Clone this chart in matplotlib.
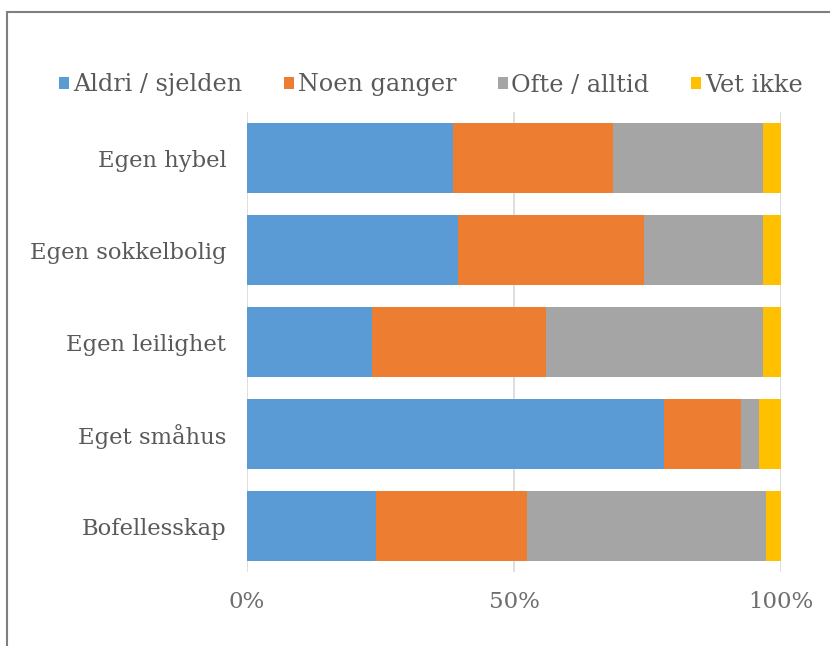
import matplotlib
matplotlib.use("Agg")
import matplotlib.pyplot as plt
from matplotlib.patches import Rectangle
import numpy as np

categories = ["Egen hybel", "Egen sokkelbolig", "Egen leilighet", "Eget småhus", "Bofellesskap"]
series_names = ["Aldri / sjelden", "Noen ganger", "Ofte / alltid", "Vet ikke"]
aldri = [38.6, 39.5, 23.4, 78.1, 24.2]
noen = [29.9, 34.8, 32.6, 14.4, 28.3]
ofte = [28.1, 22.3, 40.6, 3.4, 44.6]
vet = [3.4, 3.4, 3.4, 4.1, 3.0]
colors = ["#5B9BD5", "#ED7D31", "#A5A5A5", "#FFC000"]
xticks = [0, 50, 100]
xticklabels = ["0%", "50%", "100%"]

W, H = 830, 646
fig = plt.figure(figsize=(W / 100, H / 100), dpi=100)
plt.rcParams['font.family'] = ['DejaVu Serif']
ax = fig.add_axes([247 / W, 1 - 572 / H, (781 - 247) / W, (572 - 112) / H])

fig.patches.append(Rectangle((7 / W, -0.1), 1.2, 1 - 12 / H + 0.1, transform=fig.transFigure,
                             fill=False, edgecolor="#7F7F7F", linewidth=1.5))

y = np.arange(len(categories))
left = np.zeros(len(categories))
for name, vals, c in zip(series_names, [aldri, noen, ofte, vet], colors):
    ax.barh(y, vals, left=left, height=0.76, color=c, label=name, zorder=3)
    left += np.array(vals)

ax.set_ylim(len(categories) - 0.5, -0.5)
ax.set_xlim(0, 100)
ax.set_yticks(y)
ax.set_yticklabels(categories, fontsize=16.3, color="#595959")
ax.set_xticks(xticks)
ax.set_xticklabels(xticklabels, fontsize=16.5, color="#6E6E6E")
ax.tick_params(axis="y", length=0, pad=15)
ax.tick_params(axis="x", length=0, pad=14)
ax.grid(axis="x", color="#D9D9D9", linewidth=1.2, zorder=0)
for s in ax.spines.values():
    s.set_visible(False)

handles, labels = ax.get_legend_handles_labels()
fig.legend(handles, labels, loc="center", bbox_to_anchor=(431 / W, 1 - 85 / H), ncol=4,
           frameon=False, fontsize=17.2, handlelength=0.42, handleheight=0.42,
           handletextpad=0.15, columnspacing=1.75, labelcolor="#595959")

fig.savefig("out.png", dpi=100)
